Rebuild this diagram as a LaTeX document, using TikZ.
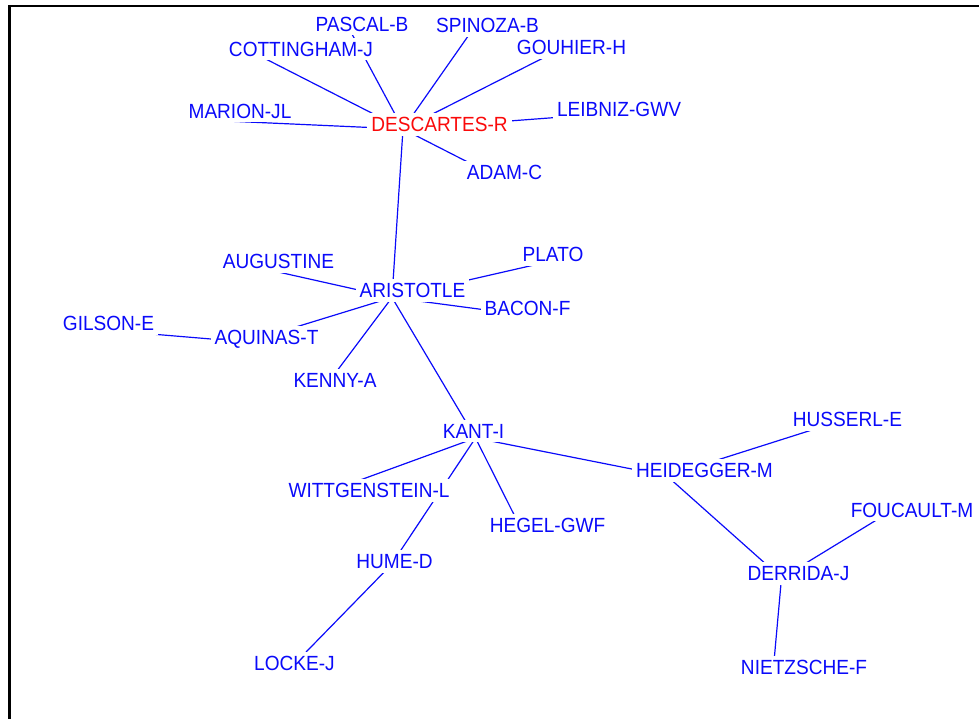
\documentclass[tikz,border=0pt]{standalone}
\usepackage{fontspec}
\setmainfont{Liberation Sans}[FakeStretch=0.93]
\definecolor{netblue}{RGB}{10,10,250}
\definecolor{netred}{RGB}{250,10,10}
\tikzset{
  lab/.style={fill=white, text=netblue, inner xsep=4pt, inner ysep=4pt,
    text height=14.7pt, text depth=0pt, font=\fontsize{20.5}{22}\selectfont},
  tie/.style={draw=netblue, line width=1.2pt},
  frame/.style={draw=black, line width=2.6pt},
}
\begin{document}
\begin{tikzpicture}[x=1pt,y=-1pt]
\useasboundingbox (0,0) rectangle (979,719);

% graph vertices (pixel coordinates, y downwards)
\coordinate (desc)  at (403,129);
\coordinate (pasc)  at (349,28.5);
\coordinate (cott)  at (255,53.5);
\coordinate (mari)  at (221,120.8);
\coordinate (spin)  at (472,30.5);
\coordinate (gouh)  at (554,52.5);
\coordinate (leib)  at (589,115);
\coordinate (adam)  at (498,177.5);
\coordinate (aris)  at (392,297.5);
\coordinate (augu)  at (255,266.8);
\coordinate (plat)  at (556,260);
\coordinate (baco)  at (520,314.5);
\coordinate (aqui)  at (247,342);
\coordinate (gils)  at (97,329.5);
\coordinate (kenn)  at (326,385.5);
\coordinate (kant)  at (475.5,438);
\coordinate (witt)  at (319,495);
\coordinate (hege)  at (522,530.5);
\coordinate (hume)  at (391,565);
\coordinate (lock)  at (290,668.5);
\coordinate (heid)  at (667,476);
\coordinate (huss)  at (826,425.5);
\coordinate (derr)  at (781.5,578);
\coordinate (fouc)  at (883,516);
\coordinate (niet)  at (773,672.5);

% ties
\foreach \a/\b in {desc/pasc, desc/cott, desc/mari, desc/spin, desc/gouh,
  desc/leib, desc/adam, desc/aris, aris/augu, aris/plat, aris/baco,
  aris/aqui, aqui/gils, aris/kenn, aris/kant, kant/witt, kant/hege,
  kant/hume, hume/lock, kant/heid, heid/huss, heid/derr, derr/fouc,
  derr/niet}
  \draw[tie] (\a) -- (\b);

% labels
\node[lab] (pascL) at (362,24)    {PASCAL-B};
\node[lab] (cottL) at (301,49)    {COTTINGHAM-J};
\node[lab] (mariL) at (240,111)   {MARION-JL};
\node[lab] (spinL) at (487.5,25.5) {SPINOZA-B};
\node[lab] (gouhL) at (571.5,47.5) {GOUHIER-H};
\node[lab] (leibL) at (619,109.5) {LEIBNIZ-GWV};
\node[lab, text=netred] (descL) at (439.5,124.5) {DESCARTES-R};
\node[lab] (adamL) at (504.5,172.5) {ADAM-C};
\node[lab] (auguL) at (278.5,261.5) {AUGUSTINE};
\node[lab] (arisL) at (412.5,290.5) {ARISTOTLE};
\node[lab] (platL) at (553,254.5) {PLATO};
\node[lab] (bacoL) at (527.5,308.5) {BACON-F};
\node[lab] (gilsL) at (108.5,323.5) {GILSON-E};
\node[lab] (aquiL) at (266.5,337) {AQUINAS-T};
\node[lab] (kennL) at (335,380.5) {KENNY-A};
\node[lab] (kantL) at (473.5,431) {KANT-I};
\node[lab] (wittL) at (369,490.5) {WITTGENSTEIN-L};
\node[lab] (hegeL) at (547.5,525.5) {HEGEL-GWF};
\node[lab] (humeL) at (394.5,561.5) {HUME-D};
\node[lab] (lockL) at (294.5,663.5) {LOCKE-J};
\node[lab] (heidL) at (704.5,470.5) {HEIDEGGER-M};
\node[lab] (hussL) at (847.5,419.5) {HUSSERL-E};
\node[lab] (foucL) at (912,510)   {FOUCAULT-M};
\node[lab] (derrL) at (798.5,573.5) {DERRIDA-J};
\node[lab] (nietL) at (804,667)   {NIETZSCHE-F};

% window frame, left and top edges
\draw[frame] (9.3,719) -- (9.3,6) -- (979,6);
\end{tikzpicture}
\end{document}
